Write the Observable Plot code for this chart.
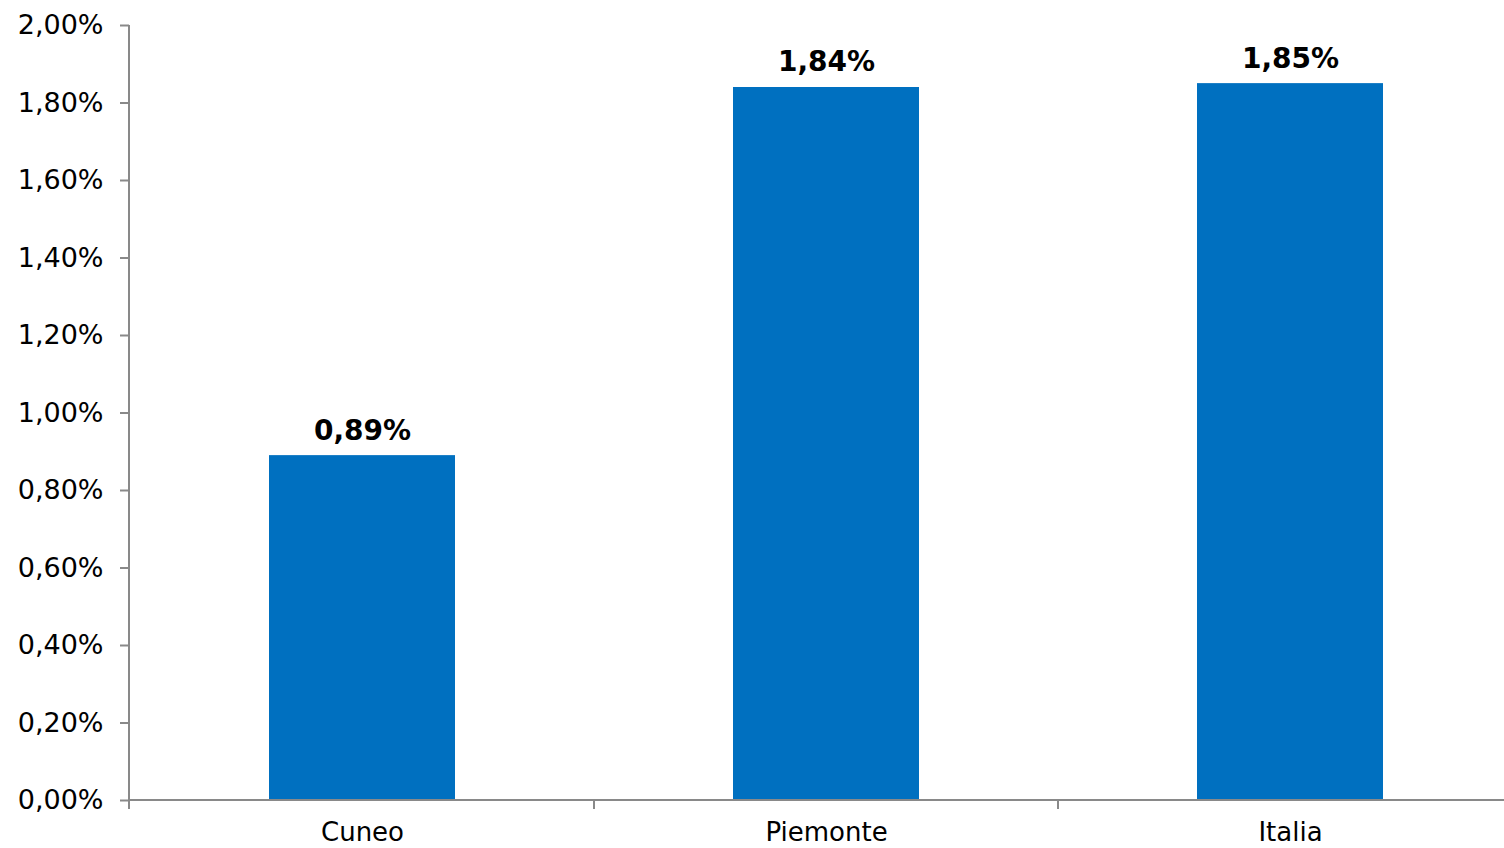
<!DOCTYPE html>
<html>
<head>
<meta charset="utf-8">
<script src="https://cdn.jsdelivr.net/npm/d3@7"></script>
<script src="https://cdn.jsdelivr.net/npm/@observablehq/plot@0.6"></script>
<style>
  html, body { margin: 0; padding: 0; background: #fff; overflow: hidden; }
  #chart svg { display: block; font-family: "DejaVu Sans", Verdana, sans-serif; }
</style>
</head>
<body>
<div id="chart"></div>
<script>
const categories = ["Cuneo", "Piemonte", "Italia"];
const values = [0.89, 1.84, 1.85];
const yTicks = [0, 0.2, 0.4, 0.6, 0.8, 1.0, 1.2, 1.4, 1.6, 1.8, 2.0];

const data = categories.map((c, i) => ({category: c, value: values[i]}));
const fmt = d => d.toFixed(2).replace(".", ",") + "%";
const axisGray = "#898989";

const chart = Plot.plot({
  width: 1504,
  height: 848,
  marginTop: 25,
  marginBottom: 48,
  marginLeft: 129,
  marginRight: 0,
  x: {domain: categories, range: [129, 1522], paddingInner: 0.6, paddingOuter: 0.3},
  y: {domain: [0, 2], range: [800, 25]},
  marks: [
    Plot.barY(data, {x: "category", y: "value", fill: "#0070C0"}),
    (index, scales, values_, dims) => {
      const g = d3.create("svg:g").attr("stroke", axisGray).attr("stroke-width", 2);
      const x0 = dims.marginLeft, yb = dims.height - dims.marginBottom;
      g.append("line").attr("x1", x0).attr("x2", x0).attr("y1", dims.marginTop).attr("y2", yb + 9);
      g.append("line").attr("x1", x0).attr("x2", dims.width - dims.marginRight).attr("y1", yb).attr("y2", yb);
      const step = scales.x.step ? scales.x.step() : scales.x.bandwidth() / 0.4;
      const bw = scales.x.bandwidth();
      categories.slice(1).forEach(c => {
        const xs = scales.x(c) - (step - bw) / 2;
        g.append("line").attr("x1", xs).attr("x2", xs).attr("y1", yb).attr("y2", yb + 9);
      });
      return g.node();
    },
    Plot.axisY({ticks: yTicks, tickFormat: fmt, tickSize: 9, tickPadding: 17, stroke: axisGray, strokeWidth: 2, fill: "#000", fontSize: 27, label: null}),
    Plot.axisX({tickSize: 0, tickPadding: 22, fill: "#000", fontSize: 26, label: null}),
    Plot.text(data, {x: "category", y: "value", text: d => fmt(d.value), lineAnchor: "middle", dy: -25, fontSize: 28, fontWeight: "bold", fill: "#000"})
  ]
});

document.getElementById("chart").appendChild(chart);
</script>
</body>
</html>
